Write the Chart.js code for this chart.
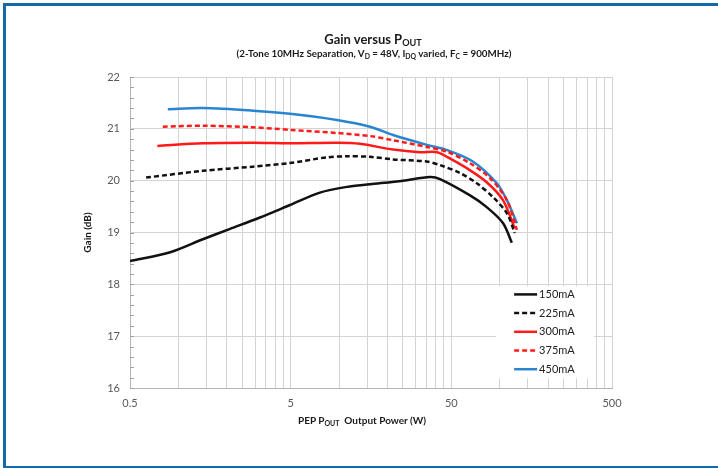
<!DOCTYPE html>
<html>
<head>
<meta charset="utf-8">
<script src="https://cdn.jsdelivr.net/npm/chart.js@4.4.1/dist/chart.umd.min.js"></script>
<style>
  body { margin: 0; background: #fff; }
  #wrap { position: relative; width: 718px; height: 468px; overflow: hidden; font-family: Lato, "Open Sans", sans-serif; color: #1a1a1a; }
  #frame { position: absolute; left: 3px; top: 3px; width: 715px; height: 465px; box-sizing: border-box;
           border-top: 3px solid #136aa8; border-left: 3px solid #136aa8; border-bottom: 2px solid #136aa8; }
  canvas { position: absolute; left: 0; top: 0; }
  .lbl { position: absolute; transform: translateX(-50%); white-space: nowrap; font-weight: bold; }
  .lbl sub { font-size: 70%; vertical-align: -0.25em; line-height: 0; }
  #title { left: 373px; top: 31px; font-size: 13px; }
  #subtitle { left: 374px; top: 47px; font-size: 9.8px; }
  #xtitle { left: 362px; top: 414px; font-size: 10px; }
</style>
</head>
<body>
<div id="wrap">
  <div id="frame"></div>
  <canvas id="gainChart" width="718" height="468"></canvas>
  <div class="lbl" id="title">Gain versus P<sub>OUT</sub></div>
  <div class="lbl" id="subtitle">(2-Tone 10MHz Separation, V<sub>D</sub> = 48V, I<sub>DQ</sub> varied, F<sub>C</sub> = 900MHz)</div>
  <div class="lbl" id="xtitle">PEP P<sub>OUT</sub>&nbsp; Output Power (W)</div>
</div>
<script>
// series (x = PEP Pout in W, y = gain in dB)
const SERIES_NAMES = ["150mA", "225mA", "300mA", "375mA", "450mA"];

const pout150 = [0.5, 0.89, 1.42, 2.1, 3.22, 4.95, 7.6, 11.2, 15.6, 25, 36.8, 42.5, 65, 83, 105, 119];
const gain150 = [18.45, 18.62, 18.87, 19.07, 19.29, 19.53, 19.77, 19.88, 19.93, 20.0, 20.07, 20.03, 19.72, 19.49, 19.18, 18.8];

const pout225 = [0.63, 1.42, 2.91, 4.95, 8.4, 11.2, 15.6, 21.7, 35.2, 42.5, 56.5, 72, 91, 111, 124];
const gain225 = [20.06, 20.19, 20.27, 20.34, 20.45, 20.47, 20.46, 20.41, 20.37, 20.3, 20.15, 19.95, 19.68, 19.37, 18.99];

const pout300 = [0.74, 1.42, 2.91, 4.95, 9.7, 13.5, 21.7, 31.9, 40.7, 47, 62.5, 83, 105, 124];
const gain300 = [20.67, 20.72, 20.73, 20.72, 20.73, 20.71, 20.6, 20.55, 20.55, 20.46, 20.24, 19.97, 19.62, 19.08];

const pout375 = [0.8, 1.42, 2.91, 4.95, 9.7, 15.6, 21.7, 35.2, 47, 65, 87, 111, 128];
const gain375 = [21.04, 21.06, 21.03, 20.98, 20.92, 20.86, 20.78, 20.65, 20.56, 20.34, 20.05, 19.62, 19.05];

const pout450 = [0.86, 1.42, 2.91, 4.95, 9.7, 15.6, 21.7, 35.2, 47, 68, 96, 111, 128];
const gain450 = [21.38, 21.4, 21.35, 21.29, 21.17, 21.04, 20.88, 20.69, 20.59, 20.37, 19.95, 19.62, 19.18];

const X_TICK_LABELS = [0.5, 5, 50, 500];
const Y_TICK_LABELS = [16, 17, 18, 19, 20, 21, 22];

const COLORS = ["#111111", "#111111", "#ff1a1a", "#ff1a1a", "#2a85d0"];
const DASHES = [[], [5, 3], [], [5, 3], []];

const pts = (xs, ys) => xs.map((x, i) => ({ x, y: ys[i] }));
const allData = [
  pts(pout150, gain150), pts(pout225, gain225), pts(pout300, gain300),
  pts(pout375, gain375), pts(pout450, gain450)
];

// log gridlines every 0.5*k per decade, like the spreadsheet axis
const xGrid = [];
X_TICK_LABELS.slice(0, -1).forEach(d => {
  for (let k = 1; k <= 9; k++) xGrid.push(+(d * k).toPrecision(3));
});
xGrid.push(X_TICK_LABELS[X_TICK_LABELS.length - 1]);

const legendBox = {
  id: "legendBox",
  beforeDatasetsDraw(chart) {
    const { ctx } = chart;
    const x = chart.scales.x, y = chart.scales.y;
    ctx.save();
    // minor y ticks (inside)
    ctx.strokeStyle = "#a0a0a0";
    ctx.lineWidth = 1;
    for (let v = Y_TICK_LABELS[0]; v <= Y_TICK_LABELS[Y_TICK_LABELS.length - 1] + 1e-6; v += 0.2) {
      const py = Math.round(y.getPixelForValue(v)) + 0.5;
      ctx.beginPath();
      ctx.moveTo(chart.chartArea.left, py);
      ctx.lineTo(chart.chartArea.left + 4, py);
      ctx.stroke();
    }
    // legend box
    const bx = x.getPixelForValue(95), by = y.getPixelForValue(17.96);
    const bw = 98, bh = 92;
    ctx.fillStyle = "#fff";
    ctx.fillRect(bx, by, bw, bh);
    ctx.font = "11px Lato, 'Open Sans', sans-serif";
    ctx.textBaseline = "middle";
    chart.data.datasets.forEach((ds, i) => {
      const ry = by + 8 + i * 18.7;
      ctx.strokeStyle = ds.borderColor;
      ctx.lineWidth = 2.5;
      ctx.setLineDash(ds.borderDash);
      ctx.beginPath();
      ctx.moveTo(bx + 18, ry);
      ctx.lineTo(bx + 41, ry);
      ctx.stroke();
      ctx.setLineDash([]);
      ctx.fillStyle = "#222";
      ctx.fillText(ds.label, bx + 43, ry);
    });
    ctx.restore();
  }
};

new Chart(document.getElementById("gainChart"), {
  type: "line",
  data: {
    datasets: SERIES_NAMES.map((name, i) => ({
      label: name,
      data: allData[i],
      borderColor: COLORS[i],
      borderDash: DASHES[i],
      borderWidth: 2.5,
      pointRadius: 0,
      fill: false,
      tension: 0.3
    }))
  },
  options: {
    responsive: false,
    devicePixelRatio: 1,
    animation: false,
    layout: { padding: { left: 78, top: 77, right: 106, bottom: 52 } },
    plugins: { legend: { display: false }, tooltip: { enabled: false } },
    scales: {
      x: {
        type: "logarithmic",
        min: 0.5,
        max: 500,
        afterBuildTicks: s => { s.ticks = xGrid.map(v => ({ value: v })); },
        afterFit: s => { s.height = 28; },
        grid: { color: "#d3d3d3", drawTicks: false },
        border: { color: "#b5b5b5" },
        ticks: {
          autoSkip: false,
          maxRotation: 0,
          padding: 9,
          color: "#595959",
          font: { family: "Lato, 'Open Sans', sans-serif", size: 11 },
          callback: v => X_TICK_LABELS.includes(v) ? String(v) : ""
        }
      },
      y: {
        min: 16,
        max: 22,
        afterBuildTicks: s => { s.ticks = Y_TICK_LABELS.map(v => ({ value: v })); },
        afterFit: s => { s.width = 52; },
        grid: { color: "#d3d3d3", drawTicks: false },
        border: { color: "#b5b5b5" },
        ticks: {
          padding: 10,
          color: "#595959",
          font: { family: "Lato, 'Open Sans', sans-serif", size: 11 }
        },
        title: {
          display: true,
          text: "Gain (dB)",
          color: "#1a1a1a",
          padding: { top: 4, bottom: 0 },
          font: { family: "Lato, 'Open Sans', sans-serif", size: 10, weight: "bold" }
        }
      }
    }
  },
  plugins: [legendBox]
});
</script>
</body>
</html>
